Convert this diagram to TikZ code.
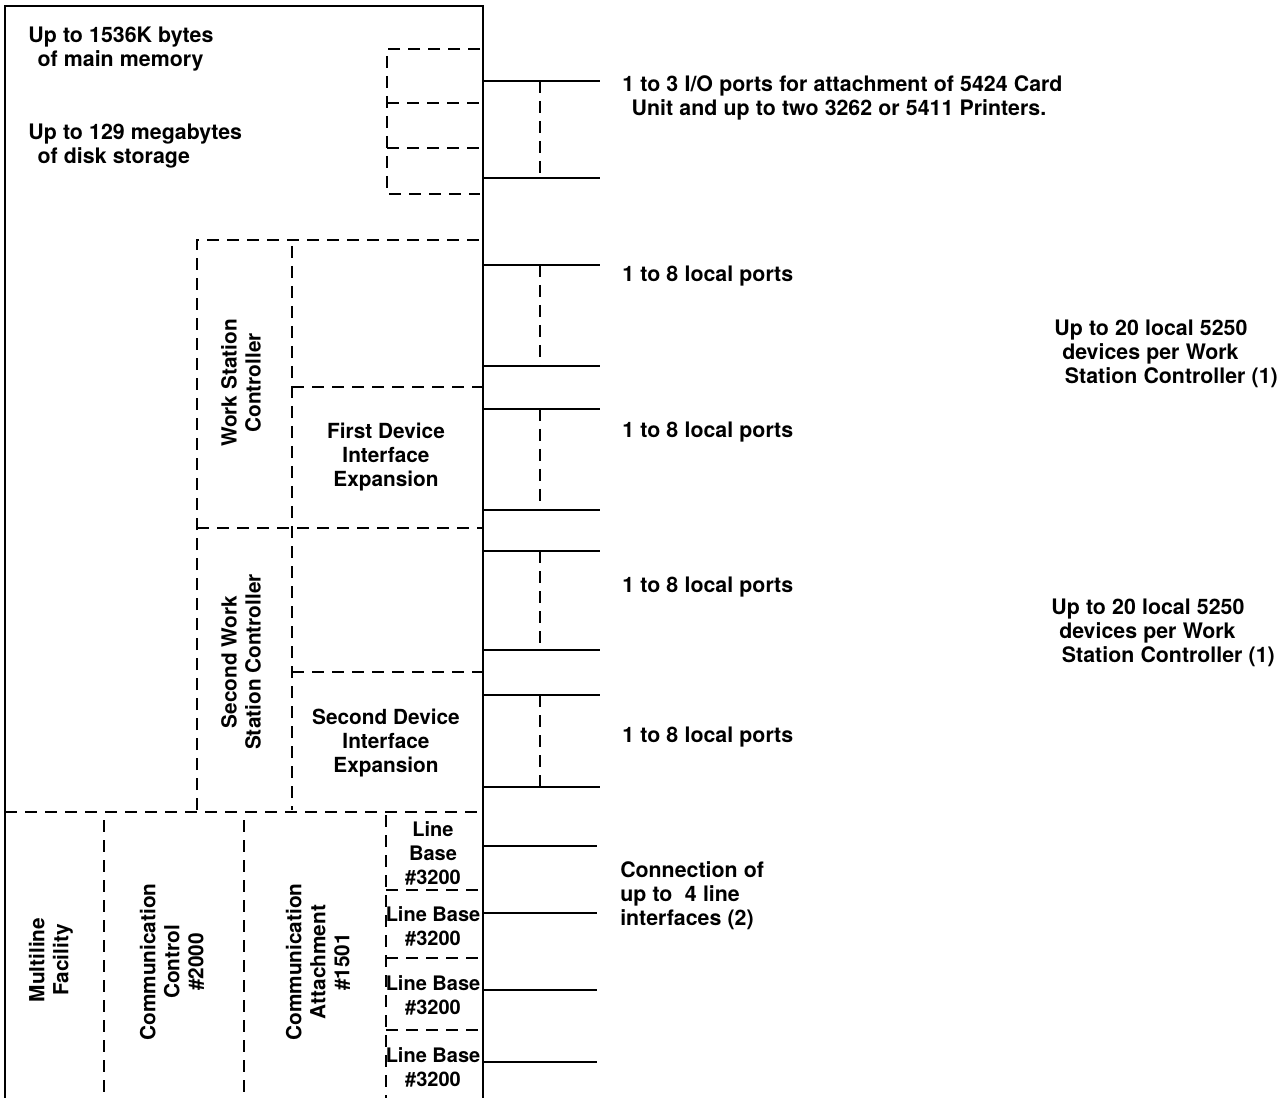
\documentclass[tikz,border=0pt]{standalone}
\usepackage{fontspec}
\setmainfont{TeX Gyre Heros}
\newfontfamily\lblfont{TeX Gyre Heros}[WordSpace=1.05]
\begin{document}
\begin{tikzpicture}[x=0.75pt,y=-0.75pt,
  frame/.style={line width=1.5pt},
  dline/.style={line width=1.1pt, dash pattern=on 9pt off 6pt},
  lbl/.style={font=\lblfont\fontsize{16}{18}\selectfont\bfseries, inner sep=0pt, align=left},
  clbl/.style={font=\fontsize{15.6}{18}\selectfont\bfseries, inner sep=0pt, align=center},
  lbbl/.style={font=\fontsize{15}{18}\selectfont\bfseries, inner sep=0pt, align=center}
]
\useasboundingbox (0,0) rectangle (1283,1098);
% outer frame
\draw[frame] (5,1098) -- (5,6) -- (483,6) -- (483,1098);
% small dashed box (I/O)
\draw[dline] (480,49) -- (387,49) -- (387,194) -- (480,194);
\draw[dline] (387,103) -- (480,103);
\draw[dline] (387,148) -- (480,148);
% I/O port lines
\draw[frame] (483,81) -- (600,81);
\draw[frame] (483,178) -- (600,178);
\draw[dline] (540,81) -- (540,178);
% local port lines
\foreach \a/\b in {265/366, 409/510, 551/650, 695/787}{
  \draw[frame] (483,\a) -- (600,\a);
  \draw[frame] (483,\b) -- (600,\b);
  \draw[dline] (540,\a) -- (540,\b);
}
% work station controller region
\draw[dline] (197,810) -- (197,240) -- (483,240);
\draw[dline] (292,246) -- (292,810);
\draw[dline] (292,387) -- (483,387);
\draw[dline] (197,528) -- (483,528);
\draw[dline] (292,672) -- (483,672);
\draw[dline] (5,812) -- (483,812);
% communication region
\draw[dline] (104,820) -- (104,1098);
\draw[dline] (244,820) -- (244,1098);
\draw[dline] (386,815) -- (386,1098);
\draw[dline] (386,890) -- (483,890);
\draw[dline] (386,958) -- (483,958);
\draw[dline] (386,1030) -- (483,1030);
% line base lines
\foreach \y in {846, 913, 990, 1062}{
  \draw[frame] (483,\y) -- (597,\y);
}
% texts
\node[lbl, anchor=west] (mem) at (28,49) {Up to 1536K bytes\\\hspace*{7pt}of main memory};
\node[lbl, anchor=west] (disk) at (28,146) {Up to 129 megabytes\\\hspace*{7pt}of disk storage};
\node[lbl, anchor=west] (io) at (622,98) {1 to 3 I/O ports for attachment of 5424 Card\\\hspace*{7pt}Unit and up to two 3262 or 5411 Printers.};
\node[lbl, anchor=west] (p1) at (622,276) {1 to 8 local ports};
\node[lbl, anchor=west] (p2) at (622,432) {1 to 8 local ports};
\node[lbl, anchor=west] (p3) at (622,587) {1 to 8 local ports};
\node[lbl, anchor=west] (p4) at (622,737) {1 to 8 local ports};
\node[lbl, anchor=west] (d1) at (1054,354) {Up to 20 local 5250\\\hspace*{6pt}devices per Work\\\hspace*{8pt}Station Controller (1)};
\node[lbl, anchor=west] (d2) at (1051,633) {Up to 20 local 5250\\\hspace*{6pt}devices per Work\\\hspace*{8pt}Station Controller (1)};
\node[lbl, anchor=west] (conn) at (620,896) {Connection of\\up to\ \ 4 line\\interfaces (2)};
\node[clbl, rotate=90] (wsc) at (241,383) {Work Station\\Controller};
\node[clbl] (fdie) at (386,457) {First Device\\Interface\\Expansion};
\node[clbl, rotate=90] (swsc) at (241,662) {Second Work\\Station Controller};
\node[clbl] (sdie) at (386,743) {Second Device\\Interface\\Expansion};
\node[clbl, rotate=90] (mlf) at (51,960) {Multiline\\Facility};
\node[clbl, rotate=90] (cc) at (172,962) {Communication\\Control\\\#2000};
\node[clbl, rotate=90] (ca) at (318,962) {Communication\\Attachment\\\#1501};
\node[lbbl] (lb1) at (433,853) {Line\\Base\\\#3200};
\node[lbbl] (lb2) at (433,926) {Line Base\\\#3200};
\node[lbbl] (lb3) at (433,995) {Line Base\\\#3200};
\node[lbbl] (lb4) at (433,1067) {Line Base\\\#3200};
\end{tikzpicture}
\end{document}
